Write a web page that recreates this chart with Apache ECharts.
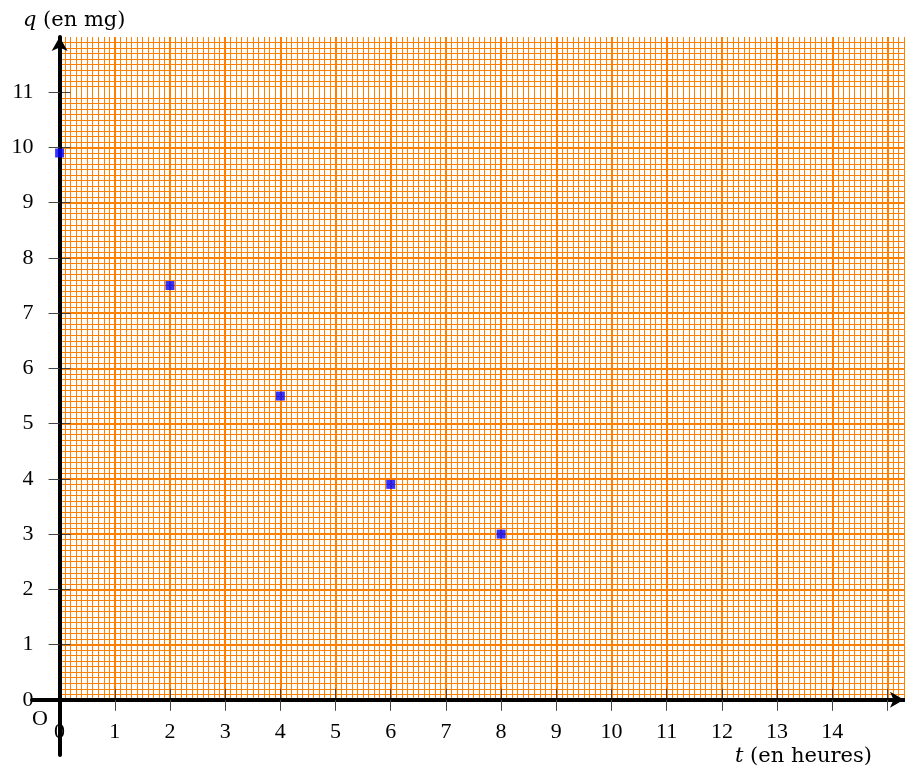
<!DOCTYPE html>
<html><head><meta charset="utf-8">
<script src="https://cdn.jsdelivr.net/npm/echarts@6/dist/echarts.min.js"></script>
<style>html,body{margin:0;padding:0;background:#fff}#c{width:905px;height:774px}</style>
</head><body><div id="c"></div>
<script>
// ---- data ----
const tValues = [0, 2, 4, 6, 8];
const qValues = [9.9, 7.5, 5.5, 3.9, 3.0];
const xTickLabels = [0, 1, 2, 3, 4, 5, 6, 7, 8, 9, 10, 11, 12, 13, 14];
const yTickLabels = [0, 1, 2, 3, 4, 5, 6, 7, 8, 9, 10, 11];
const xTickMarks = [1, 2, 3, 4, 5, 6, 7, 8, 9, 10, 11, 12, 13, 14, 15];
const yTickMarks = [1, 2, 3, 4, 5, 6, 7, 8, 9, 10, 11];
const xPaperMax = 16, yPaperMax = 12;
const xAxisMax = 15.3, yAxisMax = 12, xAxisMin = -0.5, yAxisMin = -1;
const xTitle = 't', xTitleRest = ' (en heures)';
const yTitle = 'q', yTitleRest = ' (en mg)';
const originLabel = 'O';

const points = tValues.map((t, i) => [t, qValues[i]]);
const ORANGE = '#ff8000';
const TICK = '#444';
const labelFont = {fontFamily: 'Liberation Serif', fontSize: 22, color: '#000'};
const U = 55.19; // px per unit (layout)

const chart = echarts.init(document.getElementById('c'), null, {renderer: 'canvas'});
chart.setOption({
  animation: false,
  backgroundColor: '#fff',
  grid: [
    {left: 59.6, top: 37, width: xPaperMax * U, height: 662.8, containLabel: false, outerBoundsMode: 'none'},
    {left: 32, top: 37, width: 872, height: 718, containLabel: false, outerBoundsMode: 'none'}
  ],
  xAxis: [
    {gridIndex: 0, type: 'value', min: 0, max: xPaperMax, interval: 1, z: 1, position: 'bottom',
      axisLine: {show: false},
      axisTick: {show: true, inside: true, length: 11, customValues: xTickMarks, lineStyle: {color: TICK, width: 1}},
      axisLabel: Object.assign({show: true, customValues: xTickLabels, margin: 21}, labelFont),
      minorTick: {show: false, splitNumber: 10},
      minorSplitLine: {show: true, lineStyle: {color: ORANGE, width: 1}},
      splitArea: {show: false},
      splitLine: {show: true, lineStyle: {color: ORANGE, width: 2}}},
    {gridIndex: 1, type: 'value', min: xAxisMin, max: xAxisMax, z: 3,
      axisLine: {show: true, onZero: true, lineStyle: {color: '#000', width: 4},
        symbol: ['none', 'arrow'], symbolSize: [12, 14], symbolOffset: [0, 0]},
      axisTick: {show: true, inside: false, length: 11, customValues: xTickMarks, lineStyle: {color: TICK, width: 1}},
      axisLabel: {show: false},
      splitArea: {show: false},
      splitLine: {show: false}}
  ],
  yAxis: [
    {gridIndex: 0, type: 'value', min: 0, max: yPaperMax, interval: 1, z: 1, position: 'left',
      axisLine: {show: false},
      axisTick: {show: true, inside: true, length: 11, customValues: yTickMarks, lineStyle: {color: TICK, width: 1}},
      axisLabel: Object.assign({show: true, customValues: yTickLabels, margin: 26}, labelFont),
      minorTick: {show: false, splitNumber: 10},
      minorSplitLine: {show: true, lineStyle: {color: ORANGE, width: 1}},
      splitArea: {show: false},
      splitLine: {show: true, showMaxLine: false, lineStyle: {color: ORANGE, width: 2}}},
    {gridIndex: 1, type: 'value', min: yAxisMin, max: yAxisMax, z: 3,
      axisLine: {show: true, onZero: true, lineStyle: {color: '#000', width: 4},
        symbol: ['none', 'arrow'], symbolSize: [12, 14], symbolOffset: [0, 0]},
      axisTick: {show: true, inside: false, length: 11, customValues: yTickMarks, lineStyle: {color: TICK, width: 1}},
      axisLabel: {show: false},
      splitArea: {show: false},
      splitLine: {show: false}}
  ],
  series: [{
    type: 'scatter', xAxisIndex: 0, yAxisIndex: 0, z: 10,
    symbol: 'rect', symbolSize: 9,
    itemStyle: {color: '#0000ff'},
    data: points
  }],
  graphic: [
    {type: 'text', z: 20, style: {x: 23, y: 21, text: '{i|' + yTitle + '}' + yTitleRest,
      fontFamily: 'DejaVu Serif', fontSize: 21, fill: '#000', verticalAlign: 'middle', align: 'left',
      rich: {i: {fontFamily: 'DejaVu Serif', fontStyle: 'italic', fontSize: 21}}}},
    {type: 'text', z: 20, style: {x: 735, y: 757, text: '{i|' + xTitle + '}' + xTitleRest,
      fontFamily: 'DejaVu Serif', fontSize: 21, fill: '#000', verticalAlign: 'middle', align: 'left',
      rich: {i: {fontFamily: 'DejaVu Serif', fontStyle: 'italic', fontSize: 21}}}},
    {type: 'text', z: 20, style: {x: 40, y: 719.5, text: originLabel,
      fontFamily: 'Liberation Serif', fontSize: 22, fill: '#000', verticalAlign: 'middle', align: 'center'}}
  ]
});
</script></body></html>
